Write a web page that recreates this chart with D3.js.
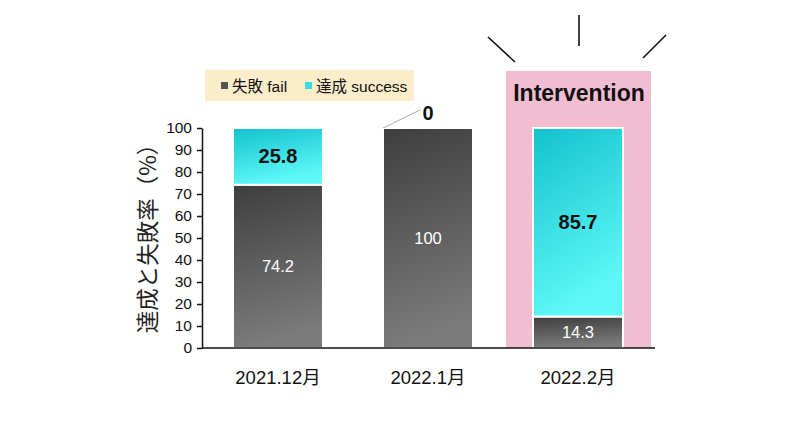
<!DOCTYPE html>
<html><head><meta charset="utf-8">
<script src="https://cdn.jsdelivr.net/npm/d3@7"></script>
<style>body{margin:0;background:#fff}svg{display:block}</style>
</head><body><svg id="c" width="800" height="421"></svg>
<script>
const categories = ["2021.12月", "2022.1月", "2022.2月"];
const failValues = [74.2, 100, 14.3];
const successValues = [25.8, 0, 85.7];
const yTicks = [0,10,20,30,40,50,60,70,80,90,100];
const legendLabels = ["失敗 fail", "達成 success"];
const yTitle = "達成と失敗率（%）";
const highlightLabel = "Intervention";

const svg = d3.select("#c");
const font = "Arial, 'Liberation Sans', 'Noto Sans CJK JP', sans-serif";
const x = d3.scaleBand().domain(categories).range([203, 653]).paddingInner(0.4).paddingOuter(0.2);
const y = d3.scaleLinear().domain([0, 100]).range([348, 128]);

const defs = svg.append("defs");
const gd = defs.append("linearGradient").attr("id","gDark").attr("x1",0).attr("y1",0).attr("x2",0.15).attr("y2",1);
gd.append("stop").attr("offset","0%").attr("stop-color","#3e3e3e");
gd.append("stop").attr("offset","100%").attr("stop-color","#7b7b7b");
const gc = defs.append("linearGradient").attr("id","gCyan").attr("x1",0).attr("y1",0).attr("x2",0.3).attr("y2",1);
gc.append("stop").attr("offset","0%").attr("stop-color","#12c2cc");
gc.append("stop").attr("offset","100%").attr("stop-color","#5ff8f8");

// highlight box
const hl = categories[2];
svg.append("rect").attr("x", x(hl) - 27).attr("y", 71).attr("width", x.bandwidth() + 55).attr("height", y(0) - 71)
  .attr("fill", "#f2bdd0");
svg.append("text").attr("x", x(hl) + x.bandwidth()/2 + 1).attr("y", 101).attr("text-anchor","middle")
  .attr("font-family", font).attr("font-weight","bold").attr("font-size", 23).attr("fill","#111").text(highlightLabel);
// burst lines
const cx = x(hl) + x.bandwidth()/2;
[[cx-90,37,cx-63,62],[cx+1,15,cx+1,46],[cx+88,35,cx+65,58]].forEach(l=>{
  svg.append("line").attr("x1",l[0]).attr("y1",l[1]).attr("x2",l[2]).attr("y2",l[3]).attr("stroke","#111").attr("stroke-width",1.6);
});

// legend
svg.append("rect").attr("x",205).attr("y",70).attr("width",209).attr("height",31).attr("fill","#fbedc9");
svg.append("rect").attr("x",221).attr("y",82).attr("width",7).attr("height",7).attr("fill","#555");
svg.append("text").attr("x",232).attr("y",91.5).attr("font-family",font).attr("font-size",15.5).attr("fill","#111").text(legendLabels[0]);
svg.append("rect").attr("x",305).attr("y",82).attr("width",7).attr("height",7).attr("fill","#3cd9e0");
svg.append("text").attr("x",316).attr("y",91.5).attr("font-family",font).attr("font-size",15.5).attr("fill","#111").text(legendLabels[1]);

// bars
const g = svg.append("g");
categories.forEach((c,i)=>{
  const f = failValues[i], s = successValues[i];
  g.append("rect").attr("x", x(c)).attr("y", y(f)).attr("width", x.bandwidth()).attr("height", y(0)-y(f))
    .attr("fill","url(#gDark)").attr("stroke","#fff").attr("stroke-width",2);
  if (s > 0) {
    g.append("rect").attr("x", x(c)).attr("y", y(f+s)).attr("width", x.bandwidth()).attr("height", y(f)-y(f+s))
      .attr("fill","url(#gCyan)").attr("stroke","#fff").attr("stroke-width",2);
  }
  const mx = x(c) + x.bandwidth()/2;
  g.append("text").attr("x", mx).attr("y", (y(f)+y(0))/2 + 6).attr("text-anchor","middle")
    .attr("font-family",font).attr("font-size",16.5).attr("fill","#fff").text(String(f));
  if (s > 0) {
    g.append("text").attr("x", mx).attr("y", (y(f+s)+y(f))/2 + 7).attr("text-anchor","middle")
      .attr("font-family",font).attr("font-weight","bold").attr("font-size",20).attr("fill","#111").text(String(s));
  } else {
    g.append("line").attr("x1", x(c)).attr("y1", y(f+s)).attr("x2", mx - 8).attr("y2", y(f+s) - 18)
      .attr("stroke","#aaa").attr("stroke-width",1);
    g.append("text").attr("x", mx).attr("y", y(f+s) - 8).attr("text-anchor","middle")
      .attr("font-family",font).attr("font-weight","bold").attr("font-size",20).attr("fill","#111").text(String(s));
  }
});

// y axis
const ya = svg.append("g").attr("transform","translate(202,0)")
  .call(d3.axisLeft(y).tickValues(yTicks).tickSize(5).tickSizeOuter(0));
ya.select(".domain").attr("stroke","#111").attr("stroke-width",1.5);
ya.selectAll(".tick line").attr("stroke","#111").attr("stroke-width",1.5);
ya.selectAll(".tick text").attr("font-family",font).attr("font-size",15.5).attr("fill","#111").attr("x",-10);

// x axis
const xa = svg.append("g").attr("transform","translate(0,348)")
  .call(d3.axisBottom(x).tickSize(0).tickSizeOuter(0));
xa.select(".domain").attr("stroke","#111").attr("stroke-width",1.5).attr("d","M202,0H655");
xa.selectAll(".tick text").attr("font-family",font).attr("font-size",18.5).attr("fill","#111").attr("dy",0).attr("y",36);

// y title
svg.append("text").attr("transform","translate(156,233) rotate(-90)").attr("text-anchor","middle")
  .attr("font-family","'Noto Sans CJK JP', sans-serif").attr("font-size",22.5).attr("fill","#222").text(yTitle);
</script></body></html>
